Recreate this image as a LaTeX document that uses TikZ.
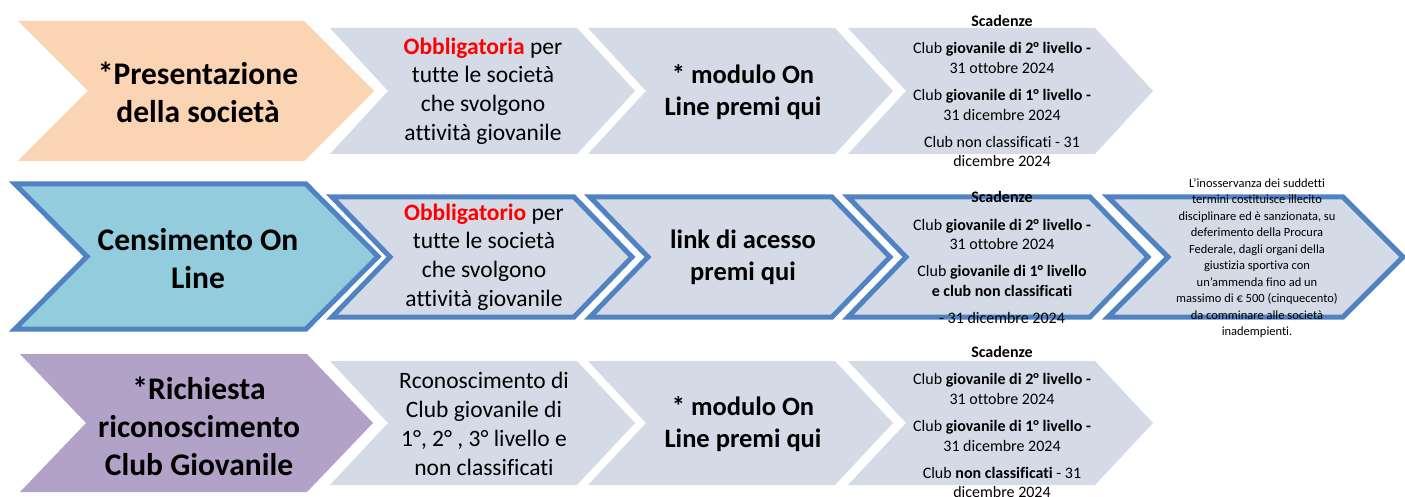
\documentclass[tikz,border=0pt]{standalone}
\usepackage{fontspec}
\setmainfont{Carlito}[Ligatures=NoCommon]
\definecolor{peach}{HTML}{FBD4B4}
\definecolor{aqua}{HTML}{93CDDD}
\definecolor{lilac}{HTML}{B3A2C7}
\definecolor{chevgray}{HTML}{D4DAE6}
\definecolor{chevborder}{HTML}{5183C2}
\definecolor{obred}{HTML}{FF0000}
\newcommand\chevron[6]{% style, left, top, bottom, tip, depth
  \path[#1] (#2,#3) -- ({#5-#6},#3) -- (#5,{(#3+#4)/2}) -- ({#5-#6},#4) -- (#2,#4) -- ({#2+#6},{(#3+#4)/2}) -- cycle;}
\tikzset{
  plain/.style={fill=chevgray},
  framed/.style={fill=chevgray, draw=chevborder, line width=5pt, line join=miter},
  mainlbl/.style={font=\bfseries\fontsize{31.5}{38}\selectfont, align=center, inner sep=0pt},
  bodylbl/.style={font=\fontsize{23.5}{28.8}\selectfont, align=center, inner sep=0pt},
  linklbl/.style={font=\bfseries\fontsize{26.5}{32}\selectfont, align=center, inner sep=0pt},
  deadlbl/.style={font=\fontsize{16}{19.2}\selectfont, align=center, inner sep=0pt},
  notelbl/.style={font=\fontsize{12.5}{16.5}\selectfont, align=center, inner sep=0pt},
}
\begin{document}
\begin{tikzpicture}[x=1pt,y=-1pt]
\useasboundingbox[fill=white] (0,0) rectangle (1405,497);

% ---------- Row 1 ----------
\chevron{fill=peach}{18}{21}{161}{374}{70}
\chevron{plain}{330}{28}{154}{635}{58}
\chevron{plain}{588}{28}{154}{893}{58}
\chevron{plain}{848}{28}{154}{1153}{58}

\node[mainlbl] (r1a) at (198,92) {*Presentazione\\della società};
\node[bodylbl] (r1b) at (483,91) {\textbf{\textcolor{obred}{Obbligatoria}} per\\tutte le società\\che svolgono\\attività giovanile};
\node[linklbl] (r1c) at (743,92) {* modulo On\\Line premi qui};
\node[deadlbl] (r1d) at (1002,91) {\textbf{Scadenze}\\[8.5pt]
  Club \textbf{giovanile di 2° livello -}\\31 ottobre 2024\\[8.5pt]
  Club \textbf{giovanile di 1° livello -}\\31 dicembre 2024\\[8.5pt]
  Club non classificati - 31\\dicembre 2024};

% ---------- Row 2 ----------
\chevron{fill=aqua, draw=chevborder, line width=5pt, line join=miter}{15}{184}{329}{378}{72}
\chevron{framed}{332}{197}{317}{632}{58}
\chevron{framed}{590}{197}{317}{890}{58}
\chevron{framed}{848}{197}{317}{1148}{58}
\chevron{framed}{1108}{197}{317}{1403}{60}

\node[mainlbl] (r2a) at (198,259) {Censimento On\\Line};
\node[bodylbl] (r2b) at (484,257) {\textbf{\textcolor{obred}{Obbligatorio}} per\\tutte le società\\che svolgono\\attività giovanile};
\node[linklbl] (r2c) at (743,257) {link di acesso\\premi qui};
\node[deadlbl] (r2d) at (1002,257.5) {\textbf{Scadenze}\\[8pt]
  Club \textbf{giovanile di 2° livello -}\\31 ottobre 2024\\[8.5pt]
  Club \textbf{giovanile di 1° livello}\\\textbf{e club non classificati}\\[8pt]
  - 31 dicembre 2024};
\node[notelbl] (r2e) at (1257,258) {L’inosservanza dei suddetti\\termini costituisce illecito\\disciplinare ed è sanzionata, su\\deferimento della Procura\\Federale, dagli organi della\\giustizia sportiva con\\un’ammenda fino ad un\\massimo di € 500 (cinquecento)\\da comminare alle società\\inadempienti.};

% ---------- Row 3 ----------
\chevron{fill=lilac}{20}{354}{492}{373}{66}
\chevron{plain}{330}{361}{485}{635}{58}
\chevron{plain}{588}{361}{485}{893}{58}
\chevron{plain}{848}{361}{485}{1153}{58}

\node[mainlbl] (r3a) at (199,426) {*Richiesta\\riconoscimento\\Club Giovanile};
\node[bodylbl] (r3b) at (484,424) {Rconoscimento di\\Club giovanile di\\1°, 2° , 3° livello e\\non classificati};
\node[linklbl] (r3c) at (743,424) {* modulo On\\Line premi qui};
\node[deadlbl] (r3d) at (1002,422) {\textbf{Scadenze}\\[8.5pt]
  Club \textbf{giovanile di 2° livello -}\\31 ottobre 2024\\[8.5pt]
  Club \textbf{giovanile di 1° livello -}\\31 dicembre 2024\\[8.5pt]
  Club \textbf{non classificati} - 31\\dicembre 2024};
\end{tikzpicture}
\end{document}
